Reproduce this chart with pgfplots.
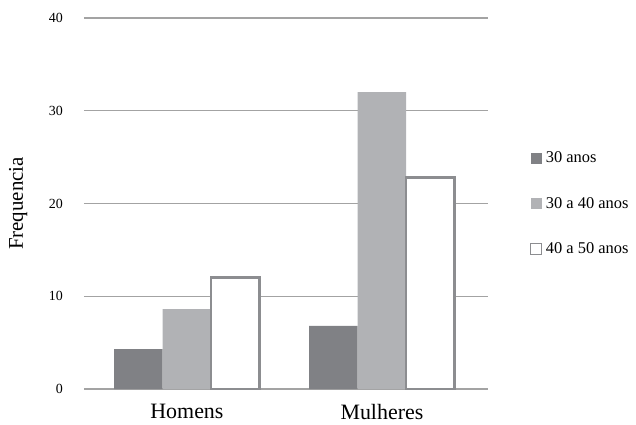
\documentclass[border=0pt]{standalone}
\usepackage{pgfplots}
\pgfplotsset{compat=1.18}
\usepackage{fontspec}
\setmainfont{Liberation Serif}
\definecolor{darkbar}{HTML}{808185}
\definecolor{lightbar}{HTML}{B1B2B5}
\definecolor{edgegray}{HTML}{8C8D90}
\definecolor{gridgray}{HTML}{A3A3A3}
\begin{document}
\begin{tikzpicture}
\useasboundingbox (-84bp,-36bp) rectangle (552bp,389bp);
\begin{axis}[
  at={(0,0)}, anchor=south west,
  scale only axis, width=404bp, height=371bp,
  ymin=0, ymax=40, ytick={0,10,20,30,40},
  xmin=-0.528, xmax=1.544,
  xtick={0,1}, xticklabels={Homens,Mulheres},
  ybar=0pt, bar width=48.5bp,
  axis line style={draw=none}, major tick length=0pt,
  ymajorgrids, grid style={gridgray, line width=1.3bp},
  /pgf/number format/assume math mode=true,
  yticklabel style={font=\fontsize{14}{16}\selectfont, inner sep=0pt, anchor=east, xshift=-21bp},
  xticklabel style={font=\fontsize{22}{26}\selectfont, inner sep=0pt, anchor=north, yshift=-15bp},
  ylabel={Frequencia},
  ylabel style={font=\fontsize{21}{25}\selectfont, at={(axis description cs:-0.163,0.5)}, anchor=center},
  clip=false,
  legend cell align=left,
  legend style={draw=none, fill=none, at={(1.104,0.5)}, anchor=west, inner sep=0pt,
    font=\fontsize{16.5}{20}\selectfont, row sep=29bp},
]
\addplot[fill=darkbar, draw=none,
  legend image code/.code={\fill[darkbar] (0bp,-5.5bp) rectangle (11bp,5.5bp); \path (12bp,0bp);}]
  coordinates {(0,4.3) (1,6.8)};
\addplot[fill=lightbar, draw=none,
  legend image code/.code={\fill[lightbar] (0bp,-5.5bp) rectangle (11bp,5.5bp); \path (12bp,0bp);}]
  coordinates {(0,8.6) (1,32)};
\addplot[fill=white, draw=edgegray, line width=2.5bp,
  legend image code/.code={\draw[fill=white, draw=edgegray, line width=0.8bp] (0bp,-5.5bp) rectangle (11bp,5.5bp); \path (12bp,0bp);}]
  coordinates {(0,12) (1,22.8)};
\legend{30 anos, 30 a 40 anos, 40 a 50 anos}
\end{axis}
\end{tikzpicture}
\end{document}
